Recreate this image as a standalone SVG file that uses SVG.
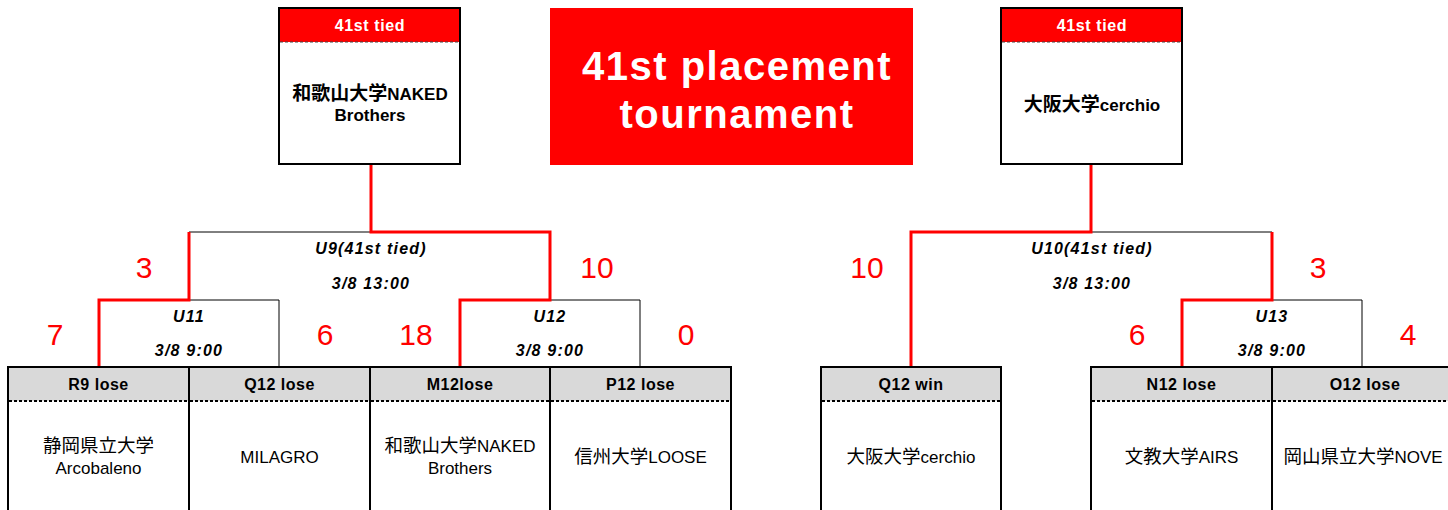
<svg xmlns="http://www.w3.org/2000/svg" width="1448" height="510" viewBox="0 0 1448 510">
<style>
text{font-family:"Liberation Sans","Noto Sans CJK JP",sans-serif;text-anchor:middle}
.box{fill:#fff;stroke:#000;stroke-width:2}
.hdr{fill:#d9d9d9}
.red{fill:#ff0000}
.dot{stroke:#000;stroke-width:2;stroke-dasharray:3 2}
.dash{stroke:#444;stroke-width:1;stroke-dasharray:3 2}
.th{font-size:16px;font-weight:bold;fill:#fff;letter-spacing:0.6px}
.tn{font-size:17px;font-weight:bold;fill:#000}
.bh{font-size:16px;font-weight:bold;fill:#000;letter-spacing:0.5px}
.bn{font-size:17px;fill:#000}
.cj{font-size:18.5px}
.cjb{font-size:19px}
.mt{font-size:16px;font-weight:bold;font-style:italic;fill:#000;letter-spacing:1.2px}
.sc{font-size:30px;fill:#ff0000}
.title{font-size:40px;font-weight:bold;fill:#fff;letter-spacing:1.5px}
.thin{fill:none;stroke:#000;stroke-width:1}
.win{fill:none;stroke:#ff0000;stroke-width:3}
</style>

<g id="connectors">
<path class="thin" d="M189,232 H371"/>
<path class="thin" d="M189,300 H279 V368"/>
<path class="thin" d="M550,300 H640 V368"/>
<path class="thin" d="M1091,232 H1272"/>
<path class="thin" d="M1272,300 H1362 V368"/>
<path class="win" d="M371,164 V232 H550 V300 H460 V368"/>
<path class="win" d="M189,232 V300 H99 V368"/>
<path class="win" d="M1091,164 V232 H911 V368"/>
<path class="win" d="M1272,232 V300 H1182 V368"/>
</g>

<g id="title">
<rect x="550" y="8" width="363" height="157" class="red"/>
<text x="737" y="80" class="title">41st placement</text>
<text x="737" y="128" class="title">tournament</text>
</g>

<g id="top-left">
<rect x="279" y="8" width="181" height="156" class="box"/>
<rect x="280" y="9" width="179" height="33" class="red"/>
<line x1="280" y1="42" x2="459" y2="42" class="dash"/>
<text x="370" y="31" class="th">41st tied</text>
<text x="370" y="100" class="tn"><tspan class="cjb">和歌山大学</tspan>NAKED</text>
<text x="370" y="121" class="tn">Brothers</text>
</g>

<g id="top-right">
<rect x="1001" y="8" width="181" height="156" class="box"/>
<rect x="1002" y="9" width="179" height="33" class="red"/>
<line x1="1002" y1="42" x2="1181" y2="42" class="dash"/>
<text x="1092" y="31" class="th">41st tied</text>
<text x="1092" y="111" class="tn"><tspan class="cjb">大阪大学</tspan>cerchio</text>
</g>

<g id="match-labels">
<text x="371" y="254" class="mt">U9(41st tied)</text>
<text x="371" y="289" class="mt">3/8 13:00</text>
<text x="1092" y="254" class="mt">U10(41st tied)</text>
<text x="1092" y="289" class="mt">3/8 13:00</text>
<text x="189" y="322" class="mt">U11</text>
<text x="189" y="356" class="mt">3/8 9:00</text>
<text x="550" y="322" class="mt">U12</text>
<text x="550" y="356" class="mt">3/8 9:00</text>
<text x="1272" y="322" class="mt">U13</text>
<text x="1272" y="356" class="mt">3/8 9:00</text>
</g>

<g id="scores">
<text x="144" y="278" class="sc">3</text>
<text x="597" y="278" class="sc">10</text>
<text x="55" y="345" class="sc">7</text>
<text x="325" y="345" class="sc">6</text>
<text x="416" y="345" class="sc">18</text>
<text x="686" y="345" class="sc">0</text>
<text x="867" y="278" class="sc">10</text>
<text x="1318" y="278" class="sc">3</text>
<text x="1137" y="345" class="sc">6</text>
<text x="1408" y="345" class="sc">4</text>
</g>

<g id="team-r9">
<rect x="8" y="367" width="181" height="150" class="box"/>
<rect x="9" y="368" width="179" height="33" class="hdr"/>
<line x1="9" y1="401" x2="188" y2="401" class="dot"/>
<text x="98.5" y="390" class="bh">R9 lose</text>
<text x="98.5" y="452" class="bn"><tspan class="cj">静岡県立大学</tspan></text>
<text x="98.5" y="474" class="bn">Arcobaleno</text>
</g>

<g id="team-q12">
<rect x="189" y="367" width="181" height="150" class="box"/>
<rect x="190" y="368" width="179" height="33" class="hdr"/>
<line x1="190" y1="401" x2="369" y2="401" class="dot"/>
<text x="279.5" y="390" class="bh">Q12 lose</text>
<text x="279.5" y="463" class="bn">MILAGRO</text>
</g>

<g id="team-m12">
<rect x="370" y="367" width="180" height="150" class="box"/>
<rect x="371" y="368" width="178" height="33" class="hdr"/>
<line x1="371" y1="401" x2="549" y2="401" class="dot"/>
<text x="460" y="390" class="bh">M12lose</text>
<text x="460" y="452" class="bn"><tspan class="cj">和歌山大学</tspan>NAKED</text>
<text x="460" y="474" class="bn">Brothers</text>
</g>

<g id="team-p12">
<rect x="550" y="367" width="181" height="150" class="box"/>
<rect x="551" y="368" width="179" height="33" class="hdr"/>
<line x1="551" y1="401" x2="730" y2="401" class="dot"/>
<text x="640.5" y="390" class="bh">P12 lose</text>
<text x="640.5" y="463" class="bn"><tspan class="cj">信州大学</tspan>LOOSE</text>
</g>

<g id="team-q12win">
<rect x="821" y="367" width="180" height="150" class="box"/>
<rect x="822" y="368" width="178" height="33" class="hdr"/>
<line x1="822" y1="401" x2="1000" y2="401" class="dot"/>
<text x="911" y="390" class="bh">Q12 win</text>
<text x="911" y="463" class="bn"><tspan class="cj">大阪大学</tspan>cerchio</text>
</g>

<g id="team-n12">
<rect x="1091" y="367" width="181" height="150" class="box"/>
<rect x="1092" y="368" width="179" height="33" class="hdr"/>
<line x1="1092" y1="401" x2="1271" y2="401" class="dot"/>
<text x="1181.5" y="390" class="bh">N12 lose</text>
<text x="1181.5" y="463" class="bn"><tspan class="cj">文教大学</tspan>AIRS</text>
</g>

<g id="team-o12">
<rect x="1272" y="367" width="181" height="150" class="box"/>
<rect x="1273" y="368" width="179" height="33" class="hdr"/>
<line x1="1273" y1="401" x2="1452" y2="401" class="dot"/>
<text x="1365" y="390" class="bh">O12 lose</text>
<text x="1363" y="463" class="bn"><tspan class="cj">岡山県立大学</tspan>NOVE</text>
</g>
</svg>
